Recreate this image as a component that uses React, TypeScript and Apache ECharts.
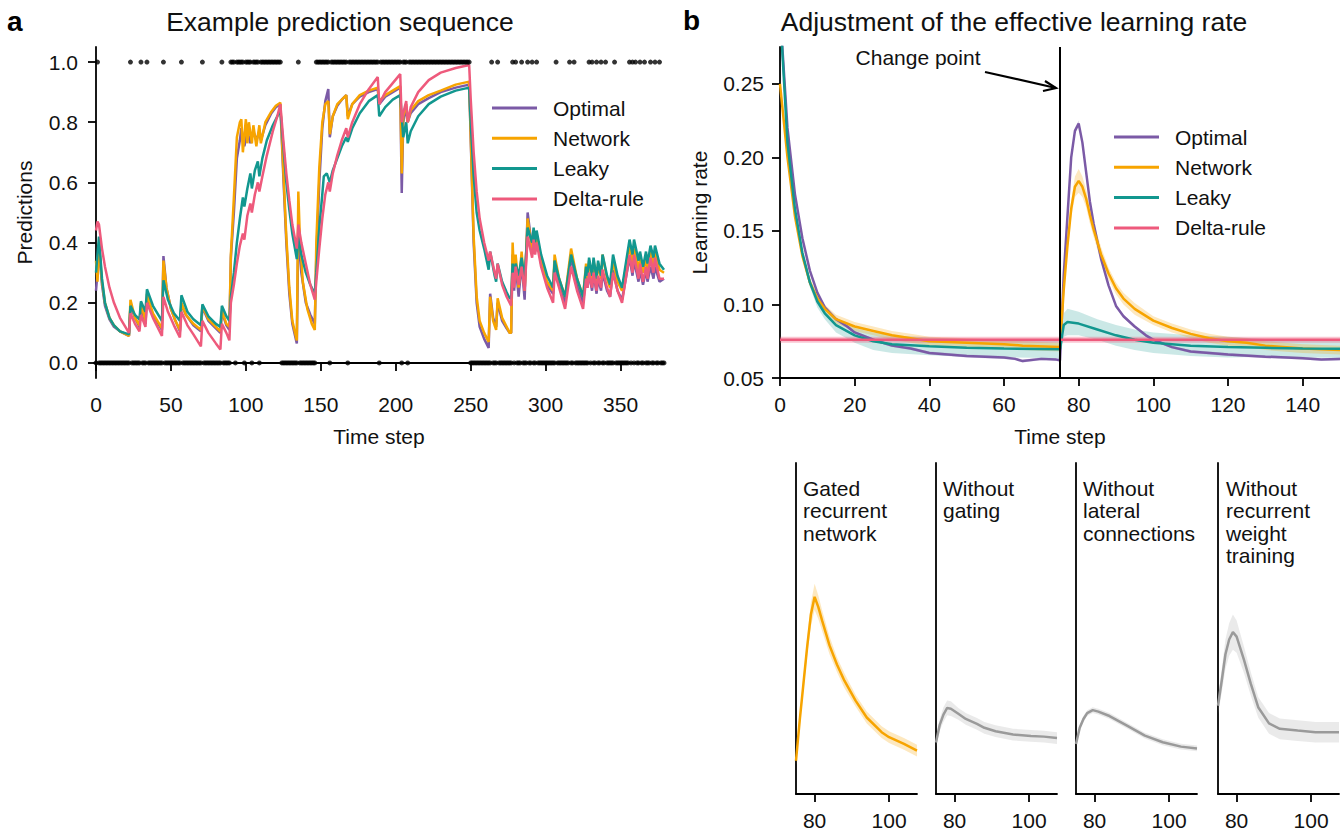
import React, { useEffect, useRef } from "react";
import * as echarts from "echarts";

const FONT = "Liberation Sans, Arial, sans-serif";
const C_OPT = "#7b5aa6";
const C_NET = "#f7a400";
const C_LEAK = "#12978f";
const C_DELTA = "#ee5a7c";
const C_GRAY = "#9a9a9a";

const seriesNames = ["Optimal", "Network", "Leaky", "Delta-rule"];

// ---- Panel a: observation sequence (ranges of time steps where the outcome was 1)
const obsOneRanges: number[][] = [
  [1, 1], [23, 23], [30, 30], [34, 34], [45, 45], [57, 57], [71, 71], [84, 84],
  [90, 92], [94, 98], [100, 103], [105, 108], [110, 123], [135, 135],
  [147, 155], [157, 167], [169, 188], [190, 203], [205, 207], [209, 249],
  [264, 264], [268, 268], [278, 278], [280, 280], [284, 284], [288, 288], [291, 291], [294, 294],
  [307, 307], [316, 316], [319, 319], [329, 329], [331, 331], [334, 334], [337, 337], [340, 340],
  [346, 346], [356, 356], [358, 358], [360, 360], [363, 363], [366, 366], [370, 370], [373, 373], [376, 376],
];
const obsSteps = 380;

// ---- Panel a: predictions [time step, prediction]
const optimalA: number[][] = [
  [0, 0.24], [1, 0.30], [2, 0.38], [4, 0.26], [6, 0.19], [9, 0.145], [12, 0.12], [16, 0.105], [22, 0.09],
  [23, 0.19], [26, 0.15], [29, 0.12], [30, 0.19], [33, 0.13], [34, 0.215], [38, 0.16], [44, 0.11],
  [45, 0.355], [47, 0.25], [50, 0.18], [53, 0.14], [56, 0.105], [57, 0.195], [60, 0.16], [65, 0.125], [70, 0.105],
  [71, 0.185], [75, 0.14], [80, 0.115], [83, 0.10], [84, 0.17], [87, 0.125], [89, 0.11],
  [90, 0.35], [92, 0.50], [94, 0.68], [96, 0.74], [97, 0.78], [99, 0.72], [101, 0.77], [103, 0.73], [105, 0.77],
  [107, 0.74], [109, 0.77], [110, 0.74], [113, 0.79], [117, 0.83], [120, 0.85], [123, 0.86],
  [125, 0.62], [127, 0.40], [129, 0.23], [131, 0.13], [134, 0.065], [135, 0.44], [137, 0.30], [140, 0.20], [143, 0.16], [146, 0.13],
  [147, 0.35], [149, 0.60], [151, 0.78], [153, 0.87], [155, 0.91], [156, 0.75], [158, 0.82], [161, 0.855], [164, 0.875],
  [167, 0.89], [168, 0.82], [171, 0.86], [176, 0.885], [182, 0.90], [188, 0.91], [189, 0.86], [193, 0.885], [198, 0.90],
  [203, 0.915], [204, 0.565], [205, 0.80], [207, 0.85], [208, 0.80], [210, 0.83], [215, 0.86], [222, 0.88], [230, 0.90],
  [240, 0.915], [249, 0.925], [250, 0.75], [252, 0.40], [254, 0.20], [256, 0.12], [259, 0.08], [262, 0.05],
  [263, 0.23], [265, 0.15], [267, 0.12], [268, 0.20], [271, 0.14], [274, 0.115], [276, 0.10],
  [277, 0.10], [278, 0.36], [279, 0.24], [280, 0.33], [282, 0.22], [284, 0.33], [286, 0.21], [288, 0.50], [291, 0.38],
  [292, 0.43], [293, 0.37], [294, 0.42], [297, 0.33], [301, 0.26], [305, 0.23], [306, 0.34], [309, 0.26], [313, 0.20],
  [317, 0.35], [321, 0.26], [325, 0.20], [327, 0.29], [328, 0.25], [329, 0.30], [331, 0.24], [332, 0.30], [334, 0.23],
  [335, 0.28], [337, 0.24], [338, 0.30], [341, 0.24], [343, 0.22], [345, 0.31], [348, 0.24], [351, 0.21], [356, 0.35],
  [358, 0.29], [359, 0.34], [362, 0.27], [363, 0.31], [365, 0.26], [367, 0.31], [368, 0.27], [370, 0.32], [372, 0.28],
  [373, 0.32], [376, 0.27], [379, 0.28],
];

const networkA: number[][] = [
  [0, 0.34], [1, 0.27], [2, 0.40], [4, 0.27], [6, 0.20], [9, 0.15], [12, 0.125], [16, 0.105], [22, 0.09],
  [23, 0.21], [26, 0.15], [29, 0.125], [30, 0.20], [33, 0.14], [34, 0.23], [38, 0.165], [44, 0.115],
  [45, 0.34], [47, 0.25], [50, 0.18], [53, 0.14], [56, 0.11], [57, 0.20], [60, 0.16], [65, 0.13], [70, 0.11],
  [71, 0.19], [75, 0.145], [80, 0.12], [83, 0.105], [84, 0.175], [87, 0.13], [89, 0.12],
  [90, 0.36], [92, 0.55], [94, 0.75], [96, 0.80], [97, 0.81], [98, 0.70], [100, 0.81], [101, 0.73], [102, 0.80],
  [104, 0.73], [105, 0.79], [107, 0.72], [109, 0.79], [110, 0.73], [113, 0.80], [117, 0.835], [120, 0.855], [123, 0.865],
  [125, 0.64], [127, 0.42], [129, 0.25], [131, 0.14], [134, 0.075], [135, 0.57], [136, 0.42], [138, 0.27], [141, 0.18],
  [144, 0.13], [146, 0.11], [147, 0.40], [149, 0.65], [151, 0.80], [153, 0.86], [155, 0.87], [156, 0.76], [158, 0.82],
  [161, 0.86], [164, 0.875], [167, 0.89], [168, 0.81], [171, 0.86], [176, 0.89], [182, 0.905], [188, 0.915], [189, 0.87],
  [193, 0.89], [198, 0.905], [203, 0.92], [204, 0.63], [205, 0.82], [207, 0.86], [208, 0.80], [210, 0.84], [215, 0.87],
  [222, 0.89], [230, 0.905], [240, 0.925], [249, 0.935], [250, 0.76], [252, 0.42], [254, 0.22], [256, 0.14], [259, 0.10],
  [262, 0.07], [263, 0.22], [265, 0.14], [267, 0.11], [268, 0.215], [271, 0.15], [274, 0.12], [276, 0.10],
  [277, 0.10], [278, 0.40], [279, 0.28], [280, 0.36], [282, 0.25], [284, 0.37], [286, 0.24], [288, 0.48], [291, 0.38],
  [292, 0.44], [293, 0.38], [294, 0.43], [297, 0.34], [301, 0.27], [305, 0.24], [306, 0.36], [309, 0.28], [313, 0.22],
  [317, 0.38], [321, 0.28], [325, 0.22], [327, 0.33], [328, 0.28], [329, 0.34], [331, 0.28], [332, 0.34], [334, 0.27],
  [335, 0.33], [337, 0.28], [338, 0.36], [341, 0.28], [343, 0.25], [345, 0.34], [348, 0.27], [351, 0.24], [356, 0.39],
  [358, 0.33], [359, 0.38], [362, 0.31], [363, 0.35], [365, 0.30], [367, 0.35], [368, 0.31], [370, 0.37], [372, 0.32],
  [373, 0.37], [376, 0.31], [379, 0.30],
];

const leakyA: number[][] = [
  [0, 0.30], [2, 0.42], [4, 0.28], [6, 0.20], [9, 0.15], [12, 0.125], [16, 0.105], [22, 0.095],
  [23, 0.19], [26, 0.16], [29, 0.145], [30, 0.205], [33, 0.17], [34, 0.245], [38, 0.19], [44, 0.14],
  [45, 0.275], [48, 0.21], [52, 0.165], [56, 0.14], [57, 0.225], [61, 0.17], [65, 0.145], [70, 0.125],
  [71, 0.195], [75, 0.155], [80, 0.13], [83, 0.12], [84, 0.19], [87, 0.155], [89, 0.14],
  [90, 0.22], [92, 0.30], [94, 0.40], [96, 0.48], [98, 0.55], [99, 0.52], [101, 0.58], [103, 0.63], [104, 0.58],
  [106, 0.64], [108, 0.67], [109, 0.62], [111, 0.68], [114, 0.74], [118, 0.79], [121, 0.82], [123, 0.84],
  [125, 0.72], [127, 0.60], [129, 0.51], [131, 0.43], [134, 0.345], [135, 0.42], [137, 0.36], [140, 0.30], [143, 0.26],
  [146, 0.23], [147, 0.30], [149, 0.45], [151, 0.56], [152, 0.62], [154, 0.63], [156, 0.60], [158, 0.64], [161, 0.68],
  [164, 0.72], [167, 0.75], [168, 0.735], [171, 0.78], [176, 0.83], [182, 0.87], [188, 0.89], [189, 0.82], [193, 0.85],
  [198, 0.875], [203, 0.89], [204, 0.82], [205, 0.75], [207, 0.80], [208, 0.73], [210, 0.77], [215, 0.82], [222, 0.86],
  [230, 0.885], [240, 0.905], [249, 0.915], [250, 0.80], [252, 0.62], [254, 0.50], [256, 0.44], [259, 0.38], [262, 0.31],
  [263, 0.37], [266, 0.29], [267, 0.27], [268, 0.33], [271, 0.27], [274, 0.235], [276, 0.215],
  [277, 0.215], [278, 0.33], [279, 0.30], [280, 0.33], [282, 0.29], [284, 0.35], [286, 0.28], [288, 0.45], [291, 0.40],
  [292, 0.45], [293, 0.40], [294, 0.44], [297, 0.36], [301, 0.29], [305, 0.25], [306, 0.34], [309, 0.28], [313, 0.22],
  [317, 0.36], [321, 0.28], [325, 0.22], [327, 0.32], [328, 0.29], [329, 0.35], [331, 0.29], [332, 0.35], [334, 0.28],
  [335, 0.34], [337, 0.29], [338, 0.36], [341, 0.29], [343, 0.26], [345, 0.36], [348, 0.29], [351, 0.25], [356, 0.41],
  [358, 0.36], [359, 0.41], [362, 0.34], [363, 0.37], [365, 0.32], [367, 0.37], [368, 0.33], [370, 0.39], [372, 0.35],
  [373, 0.39], [376, 0.33], [379, 0.31],
];

const deltaA: number[][] = [
  [0, 0.44], [1, 0.47], [2, 0.46], [4, 0.38], [6, 0.32], [9, 0.25], [12, 0.20], [16, 0.15], [22, 0.10],
  [23, 0.165], [26, 0.13], [29, 0.105], [30, 0.16], [33, 0.12], [34, 0.20], [38, 0.15], [44, 0.09],
  [45, 0.22], [48, 0.17], [52, 0.125], [56, 0.085], [57, 0.17], [61, 0.125], [65, 0.095], [70, 0.055],
  [71, 0.14], [75, 0.10], [80, 0.065], [83, 0.045], [84, 0.13], [87, 0.10], [89, 0.075],
  [90, 0.20], [92, 0.26], [94, 0.33], [96, 0.39], [98, 0.43], [99, 0.41], [101, 0.49], [103, 0.53], [104, 0.50],
  [106, 0.56], [108, 0.60], [109, 0.57], [111, 0.62], [114, 0.69], [118, 0.77], [121, 0.82], [123, 0.86],
  [125, 0.74], [127, 0.63], [129, 0.54], [131, 0.46], [134, 0.38], [135, 0.46], [137, 0.40], [140, 0.33], [143, 0.26],
  [146, 0.21], [147, 0.27], [149, 0.38], [151, 0.48], [153, 0.56], [155, 0.60], [156, 0.57], [158, 0.63], [161, 0.69],
  [164, 0.74], [167, 0.78], [168, 0.75], [171, 0.80], [176, 0.86], [182, 0.91], [188, 0.95], [189, 0.86], [193, 0.90],
  [198, 0.93], [203, 0.96], [204, 0.80], [205, 0.83], [207, 0.87], [208, 0.80], [210, 0.85], [215, 0.90], [222, 0.94],
  [230, 0.965], [240, 0.98], [249, 0.99], [250, 0.88], [252, 0.70], [254, 0.57], [256, 0.48], [259, 0.40], [262, 0.34],
  [263, 0.37], [266, 0.30], [267, 0.28], [268, 0.33], [271, 0.26], [274, 0.22], [276, 0.20],
  [277, 0.19], [278, 0.30], [279, 0.25], [280, 0.32], [282, 0.26], [284, 0.32], [286, 0.24], [288, 0.42], [291, 0.35],
  [292, 0.41], [293, 0.36], [294, 0.40], [297, 0.32], [301, 0.25], [305, 0.20], [306, 0.30], [309, 0.25], [313, 0.18],
  [317, 0.32], [321, 0.24], [325, 0.18], [327, 0.28], [328, 0.25], [329, 0.30], [331, 0.25], [332, 0.30], [334, 0.24],
  [335, 0.29], [337, 0.25], [338, 0.31], [341, 0.25], [343, 0.22], [345, 0.30], [348, 0.24], [351, 0.20], [356, 0.36],
  [358, 0.30], [359, 0.36], [362, 0.28], [363, 0.33], [365, 0.27], [367, 0.32], [368, 0.28], [370, 0.35], [372, 0.30],
  [373, 0.35], [376, 0.28], [379, 0.28],
];

// ---- Panel b: learning rate [time step, mean, half-width of shaded band]
const optimalB: number[][] = [
  [0, 0.30, 0.001], [2, 0.22, 0.001], [4, 0.175, 0.001], [6, 0.145, 0.001], [8, 0.123, 0.001], [10, 0.108, 0.001],
  [12, 0.098, 0.001], [15, 0.090, 0.001], [18, 0.085, 0.001], [20, 0.081, 0.001], [25, 0.076, 0.001], [30, 0.072, 0.001],
  [35, 0.070, 0.001], [40, 0.067, 0.001], [50, 0.065, 0.001], [60, 0.064, 0.001], [63, 0.063, 0.001], [65, 0.0615, 0.001],
  [70, 0.063, 0.001], [74, 0.0625, 0.001], [75, 0.062, 0.001], [76, 0.12, 0.002], [77, 0.16, 0.002], [78, 0.20, 0.002],
  [79, 0.218, 0.002], [80, 0.223, 0.002], [81, 0.21, 0.002], [82, 0.19, 0.002], [83, 0.17, 0.002], [84, 0.155, 0.002],
  [86, 0.131, 0.001], [88, 0.113, 0.001], [90, 0.099, 0.001], [92, 0.092, 0.001], [95, 0.085, 0.001], [98, 0.079, 0.001],
  [100, 0.076, 0.001], [105, 0.071, 0.001], [110, 0.068, 0.001], [115, 0.067, 0.001], [120, 0.066, 0.001],
  [130, 0.0645, 0.001], [140, 0.0635, 0.001], [145, 0.0625, 0.001], [150, 0.063, 0.001],
];

const networkB: number[][] = [
  [0, 0.25, 0.003], [2, 0.20, 0.003], [4, 0.16, 0.003], [6, 0.133, 0.003], [8, 0.115, 0.003], [10, 0.104, 0.003],
  [12, 0.097, 0.003], [15, 0.090, 0.003], [20, 0.085, 0.003], [25, 0.082, 0.003], [30, 0.079, 0.003], [35, 0.077, 0.003],
  [40, 0.075, 0.003], [50, 0.074, 0.003], [60, 0.073, 0.003], [65, 0.072, 0.003], [75, 0.071, 0.003], [76, 0.11, 0.004],
  [77, 0.14, 0.005], [78, 0.165, 0.006], [79, 0.180, 0.007], [80, 0.184, 0.008], [81, 0.180, 0.007], [82, 0.172, 0.006],
  [83, 0.161, 0.006], [84, 0.151, 0.005], [86, 0.134, 0.005], [88, 0.121, 0.004], [90, 0.111, 0.004], [92, 0.104, 0.004],
  [95, 0.097, 0.004], [100, 0.089, 0.003], [105, 0.084, 0.003], [110, 0.080, 0.003], [115, 0.077, 0.003],
  [120, 0.075, 0.003], [125, 0.074, 0.003], [130, 0.072, 0.003], [140, 0.070, 0.003], [150, 0.069, 0.003],
];

const leakyB: number[][] = [
  [0, 0.30, 0.002], [2, 0.21, 0.002], [4, 0.165, 0.002], [6, 0.135, 0.003], [8, 0.115, 0.003], [10, 0.102, 0.004],
  [12, 0.094, 0.004], [15, 0.086, 0.005], [20, 0.079, 0.005], [25, 0.075, 0.006], [30, 0.073, 0.006], [40, 0.0715, 0.006],
  [50, 0.0705, 0.006], [60, 0.070, 0.006], [75, 0.0695, 0.006], [76, 0.086, 0.008], [77, 0.088, 0.009], [80, 0.087, 0.008],
  [85, 0.083, 0.007], [90, 0.079, 0.007], [95, 0.076, 0.007], [100, 0.074, 0.007], [110, 0.072, 0.007], [120, 0.071, 0.007],
  [130, 0.0705, 0.006], [140, 0.070, 0.006], [150, 0.0698, 0.006],
];

const deltaB: number[][] = [
  [0, 0.076, 0.002], [150, 0.076, 0.002],
];

// ---- Bottom panels: network variants after the change point [time step, mean, half-width]
const gatedNet: number[][] = [
  [75, 0.0726, 0.003], [76, 0.10, 0.004], [77, 0.125, 0.005], [78, 0.15, 0.006], [79, 0.172, 0.008], [80, 0.184, 0.009],
  [81, 0.177, 0.008], [82, 0.168, 0.007], [84, 0.151, 0.006], [86, 0.138, 0.005], [88, 0.127, 0.005], [91, 0.1135, 0.004],
  [94, 0.102, 0.004], [98, 0.092, 0.004], [100, 0.0886, 0.004], [104, 0.084, 0.004], [107.5, 0.0795, 0.004],
];
const noGating: number[][] = [
  [75, 0.085, 0.003], [76, 0.097, 0.004], [77, 0.104, 0.005], [78, 0.1085, 0.005], [79, 0.108, 0.005], [81, 0.1045, 0.004],
  [83, 0.101, 0.004], [86, 0.0977, 0.004], [88, 0.095, 0.004], [91, 0.0927, 0.004], [95.7, 0.0904, 0.004],
  [100.5, 0.0895, 0.004], [104, 0.089, 0.004], [107.5, 0.088, 0.004],
];
const noLateral: number[][] = [
  [75, 0.084, 0.002], [76, 0.095, 0.002], [77, 0.101, 0.002], [78, 0.105, 0.002], [79.5, 0.107, 0.002], [81, 0.106, 0.002],
  [84, 0.103, 0.002], [88.7, 0.0965, 0.002], [93.5, 0.0897, 0.002], [98.3, 0.0852, 0.002], [103.2, 0.0822, 0.002],
  [107.5, 0.081, 0.002],
];
const noRecurrentTraining: number[][] = [
  [75, 0.11, 0.006], [76, 0.127, 0.008], [77, 0.145, 0.010], [78, 0.155, 0.011], [79, 0.160, 0.012], [80, 0.157, 0.011],
  [81, 0.149, 0.010], [82, 0.141, 0.009], [83.8, 0.125, 0.008], [85.8, 0.109, 0.007], [88.7, 0.098, 0.007],
  [91.6, 0.0943, 0.007], [96.4, 0.0931, 0.007], [101.2, 0.092, 0.007], [107.5, 0.092, 0.007],
];
const smallPanelLabels = [
  "Gated\nrecurrent\nnetwork",
  "Without\ngating",
  "Without\nlateral\nconnections",
  "Without\nrecurrent\nweight\ntraining",
];

const ticksA_X = [0, 50, 100, 150, 200, 250, 300, 350];
const ticksA_Y = [0, 0.2, 0.4, 0.6, 0.8, 1.0];
const ticksB_X = [0, 20, 40, 60, 80, 100, 120, 140];
const ticksB_Y = [0.05, 0.1, 0.15, 0.2, 0.25];
const ticksSmall_X = [80, 100];
const changePoint = 75;

const TXT = "#111";
const axisLineStyle = { lineStyle: { color: "#000", width: 1.8 } };
const tickStyle = { length: 8, lineStyle: { color: "#000", width: 1.8 } };
const labelStyle = { color: TXT, fontSize: 21, fontFamily: FONT };
const nameStyle = { color: TXT, fontSize: 21, fontFamily: FONT };

function bandSeries(data: number[][], color: string, axisIdx: number) {
  return {
    type: "custom",
    xAxisIndex: axisIdx,
    yAxisIndex: axisIdx,
    silent: true,
    z: 1,
    data: [[data[0][0], data[0][1]]],
    renderItem: (params: any, api: any) => {
      const upper = data.map((d) => api.coord([d[0], d[1] + d[2]]));
      const lower = data.slice().reverse().map((d) => api.coord([d[0], d[1] - d[2]]));
      const cs = params.coordSys;
      return {
        type: "polygon",
        shape: { points: upper.concat(lower) },
        style: { fill: color, stroke: null },
        clipPath: { type: "rect", shape: { x: cs.x, y: cs.y, width: cs.width, height: cs.height } },
      };
    },
  };
}

function lineSeries(name: string | undefined, data: number[][], color: string, axisIdx: number, width = 2.5, extra: any = {}) {
  return {
    type: "line", name, xAxisIndex: axisIdx, yAxisIndex: axisIdx,
    data: data.map((d) => [d[0], d[1]]), symbol: "none", silent: true,
    lineStyle: { color, width }, itemStyle: { color }, z: 3, ...extra,
  };
}

export default function App() {
  const ref = useRef<HTMLDivElement>(null);

  useEffect(() => {
    if (!ref.current) return;
    const chart = echarts.init(ref.current, undefined, { renderer: "svg" });

    const isOne = new Array(obsSteps).fill(0);
    obsOneRanges.forEach(([s, e]) => { for (let t = s; t <= e; t++) isOne[t] = 1; });
    const obsData = isOne.map((v, t) => [t, v]);

    const smallGridLefts = [796, 936, 1076, 1218];

    const grids: any[] = [
      { left: 94, top: 47, width: 570, height: 331 },
      { left: 780, top: 47, width: 560, height: 331 },
      ...smallGridLefts.map((l) => ({ left: l, top: 463, width: 121, height: 331 })),
    ];

    const xAxes: any[] = [
      {
        type: "value", gridIndex: 0, min: -1.33, max: 379,
        axisLine: axisLineStyle, axisTick: { ...tickStyle, customValues: ticksA_X },
        axisLabel: { ...labelStyle, margin: 16, customValues: ticksA_X },
        splitLine: { show: false },
        name: "Time step", nameLocation: "middle", nameGap: 48,
        nameTextStyle: nameStyle,
      },
      {
        type: "value", gridIndex: 1, min: 0, max: 150,
        axisLine: axisLineStyle, axisTick: { ...tickStyle, customValues: ticksB_X },
        axisLabel: { ...labelStyle, margin: 16, customValues: ticksB_X },
        splitLine: { show: false },
        name: "Time step", nameLocation: "middle", nameGap: 48,
        nameTextStyle: nameStyle,
      },
      ...smallGridLefts.map((_, i) => ({
        type: "value", gridIndex: 2 + i, min: 75, max: 107.5,
        axisLine: axisLineStyle, axisTick: { ...tickStyle, customValues: ticksSmall_X },
        axisLabel: { ...labelStyle, margin: 16, customValues: ticksSmall_X },
        splitLine: { show: false },
      })),
    ];

    const yAxes: any[] = [
      {
        type: "value", gridIndex: 0, min: -0.05, max: 1.05,
        axisLine: { show: true, ...axisLineStyle }, axisTick: { show: true, ...tickStyle, customValues: ticksA_Y },
        axisLabel: { ...labelStyle, margin: 16, customValues: ticksA_Y, formatter: (v: number) => v.toFixed(1) },
        splitLine: { show: false },
        name: "Predictions", nameLocation: "middle", nameGap: 59,
        nameTextStyle: nameStyle,
      },
      {
        type: "value", gridIndex: 1, min: 0.05, max: 0.275,
        axisLine: { show: true, ...axisLineStyle }, axisTick: { show: true, ...tickStyle, customValues: ticksB_Y },
        axisLabel: { ...labelStyle, margin: 16, customValues: ticksB_Y, formatter: (v: number) => v.toFixed(2) },
        splitLine: { show: false },
        name: "Learning rate", nameLocation: "middle", nameGap: 70,
        nameTextStyle: nameStyle,
      },
      ...smallGridLefts.map((_, i) => ({
        type: "value", gridIndex: 2 + i, min: 0.05, max: 0.275,
        axisLine: { show: true, ...axisLineStyle }, axisTick: { show: false },
        axisLabel: { show: false }, splitLine: { show: false },
      })),
    ];

    const series: any[] = [
      // panel a
      lineSeries("Optimal", optimalA, C_OPT, 0),
      lineSeries("Network", networkA, C_NET, 0),
      lineSeries("Leaky", leakyA, C_LEAK, 0),
      lineSeries("Delta-rule", deltaA, C_DELTA, 0),
      {
        type: "scatter", xAxisIndex: 0, yAxisIndex: 0, data: obsData, symbolSize: 5,
        itemStyle: { color: "#000" }, silent: true, z: 5,
      },
      // panel b bands
      bandSeries(leakyB, "rgba(18,151,143,0.22)", 1),
      bandSeries(networkB, "rgba(247,164,0,0.25)", 1),
      bandSeries(optimalB, "rgba(123,90,166,0.25)", 1),
      bandSeries(deltaB, "rgba(238,90,124,0.35)", 1),
      lineSeries("Optimal", optimalB, C_OPT, 1),
      lineSeries("Network", networkB, C_NET, 1),
      lineSeries("Leaky", leakyB, C_LEAK, 1),
      lineSeries("Delta-rule", deltaB, C_DELTA, 1, 2.5, {
        markLine: {
          silent: true, symbol: "none", label: { show: false }, z: 6,
          lineStyle: { color: "#000", width: 2, type: "solid" },
          data: [{ xAxis: changePoint }],
        },
      }),
      // small panels
      bandSeries(gatedNet, "rgba(247,164,0,0.25)", 2),
      lineSeries(undefined, gatedNet, C_NET, 2),
      bandSeries(noGating, "rgba(150,150,150,0.2)", 3),
      lineSeries(undefined, noGating, C_GRAY, 3),
      bandSeries(noLateral, "rgba(150,150,150,0.2)", 4),
      lineSeries(undefined, noLateral, C_GRAY, 4),
      bandSeries(noRecurrentTraining, "rgba(150,150,150,0.2)", 5),
      lineSeries(undefined, noRecurrentTraining, C_GRAY, 5),
    ];

    const legendCommon = {
      orient: "vertical", selectedMode: false, icon: "rect", itemWidth: 45, itemHeight: 3,
      itemGap: 9.3, padding: 0, data: seriesNames,
      textStyle: { color: TXT, fontSize: 21, fontFamily: FONT, lineHeight: 21, padding: [0, 0, 0, 11] },
    };

    const smallTextX = [803, 943, 1083, 1226];

    const option: any = {
      animation: false,
      backgroundColor: "#fff",
      grid: grids,
      xAxis: xAxes,
      yAxis: yAxes,
      legend: [
        { ...legendCommon, left: 492, top: 97.5 },
        { ...legendCommon, left: 1114, top: 126.5 },
      ],
      series,
      graphic: [
        { type: "text", x: 7, y: 21, style: { text: "a", fontSize: 28, fontWeight: "bold", fontFamily: FONT, fill: "#000", verticalAlign: "middle" } },
        { type: "text", x: 683, y: 20, style: { text: "b", fontSize: 28, fontWeight: "bold", fontFamily: FONT, fill: "#000", verticalAlign: "middle" } },
        { type: "text", x: 340, y: 22, style: { text: "Example prediction sequence", fontSize: 26.5, fontFamily: FONT, fill: TXT, align: "center", verticalAlign: "middle" } },
        { type: "text", x: 1014, y: 22, style: { text: "Adjustment of the effective learning rate", fontSize: 26.5, fontFamily: FONT, fill: TXT, align: "center", verticalAlign: "middle" } },
        { type: "text", x: 918, y: 57, style: { text: "Change point", fontSize: 21, fontFamily: FONT, fill: TXT, align: "center", verticalAlign: "middle" } },
        { type: "line", shape: { x1: 985, y1: 72, x2: 1056, y2: 88 }, style: { stroke: "#000", lineWidth: 2.2 } },
        { type: "polyline", shape: { points: [[1045, 81], [1056, 88], [1043, 91]] }, style: { stroke: "#000", lineWidth: 2.2, fill: null } },
        ...smallPanelLabels.map((t, i) => ({
          type: "text", x: smallTextX[i], y: 477,
          style: { text: t, fontSize: 21, lineHeight: 22.5, fontFamily: FONT, fill: TXT },
        })),
      ],
    };

    chart.setOption(option);
    return () => chart.dispose();
  }, []);

  return (
    <div
      ref={ref}
      style={{ position: "fixed", left: 0, top: 0, width: 1340, height: 833, background: "#fff" }}
    />
  );
}
